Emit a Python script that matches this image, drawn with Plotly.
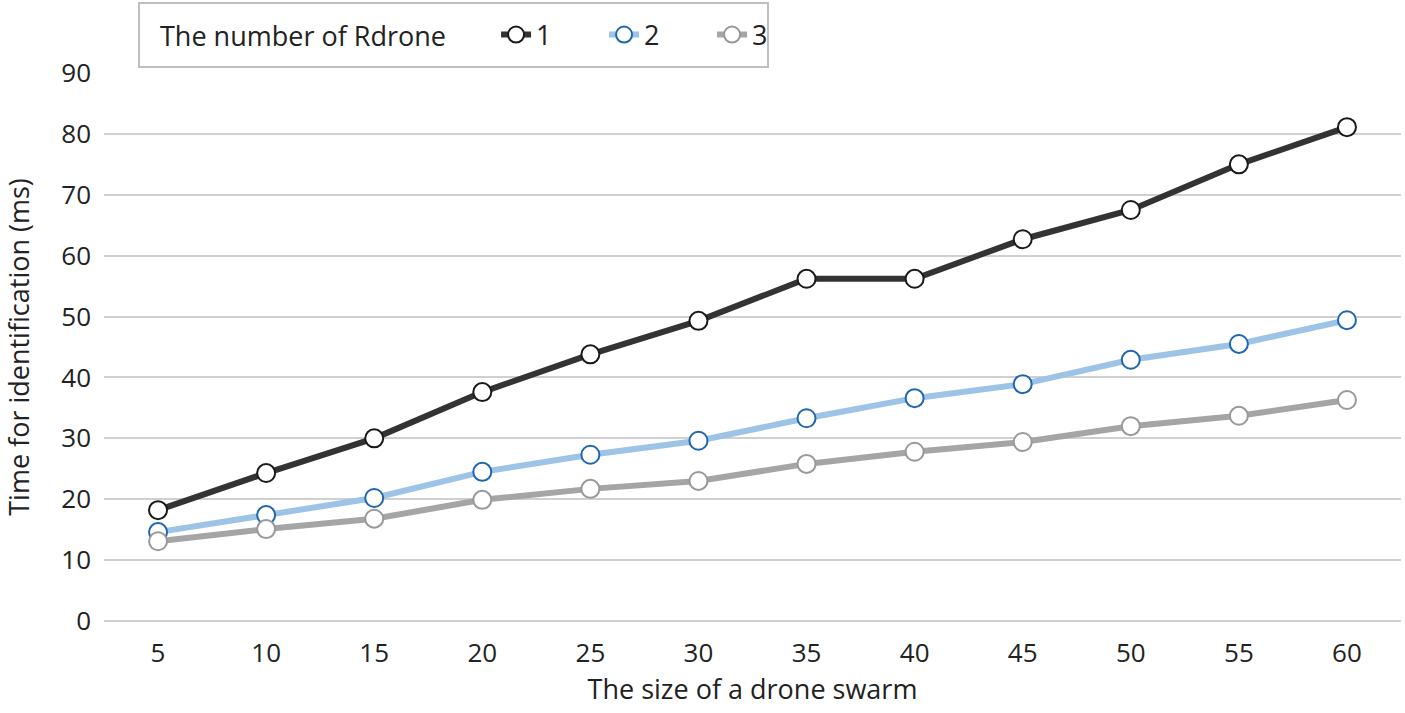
import plotly.graph_objects as go

swarm_sizes = ["5", "10", "15", "20", "25", "30", "35", "40", "45", "50", "55", "60"]
rdrone_1 = [18.2, 24.3, 30.0, 37.6, 43.8, 49.3, 56.2, 56.2, 62.7, 67.5, 75.0, 81.1]
rdrone_2 = [14.6, 17.4, 20.2, 24.5, 27.3, 29.6, 33.3, 36.6, 38.9, 42.9, 45.5, 49.4]
rdrone_3 = [13.1, 15.1, 16.8, 19.9, 21.7, 23.0, 25.8, 27.8, 29.4, 32.0, 33.7, 36.3]
series_names = ["1", "2", "3"]

line_colors = ["#333333", "#9DC3E6", "#A5A5A5"]
marker_edges = ["#1a1a1a", "#1F66B0", "#999999"]
line_widths = [6, 6, 6]

fig = go.Figure()
for name, vals, lc, me, lw in zip(series_names, [rdrone_1, rdrone_2, rdrone_3],
                                  line_colors, marker_edges, line_widths):
    fig.add_trace(go.Scatter(
        x=swarm_sizes, y=vals, name=name, mode="lines+markers",
        line=dict(color=lc, width=lw),
        marker=dict(size=18, color="white", line=dict(color=me, width=2)),
    ))

font_family = "Open Sans, Liberation Sans, sans-serif"
L, R, T, B = 104, 4, 73, 92
W, H = 1405, 713
pw, ph = W - L - R, H - T - B

def px_x(x):
    return (x - L) / pw

def px_y(y):
    return (H - B - y) / ph

fig.update_layout(
    width=W, height=H,
    margin=dict(l=L, r=R, t=T, b=B),
    paper_bgcolor="white", plot_bgcolor="white",
    font=dict(family=font_family, size=26, color="#222222"),
    showlegend=True,
    legend=dict(
        orientation="h", x=px_x(158), y=px_y(35), xanchor="left", yanchor="middle",
        title=dict(text="The number of Rdrone      ", side="left", font=dict(size=27)),
        borderwidth=0, bgcolor="rgba(0,0,0,0)",
        font=dict(size=27), tracegroupgap=0, entrywidth=63, entrywidthmode="pixels",
    ),
    shapes=[dict(
        type="rect", xref="paper", yref="paper",
        x0=px_x(139), x1=px_x(768), y0=px_y(67), y1=px_y(3),
        line=dict(color="#BFBFBF", width=2), fillcolor="rgba(0,0,0,0)", layer="below",
    )],
    xaxis=dict(
        type="category", range=[-0.5, 11.5], showgrid=False, zeroline=False, showline=False,
        ticks="", tickfont=dict(size=26), automargin=False, ticklabelstandoff=14,
        title=dict(text="The size of a drone swarm", font=dict(size=27), standoff=8),
    ),
    yaxis=dict(
        range=[0, 90], dtick=10, showgrid=True, gridcolor="#D0D0D0", gridwidth=2,
        zeroline=True, zerolinecolor="#D0D0D0", zerolinewidth=2,
        showline=False, ticks="", tickfont=dict(size=26), automargin=False,
        ticklabelstandoff=12,
        title=dict(text="Time for identification (ms)", font=dict(size=27), standoff=24),
    ),
)
fig.write_html("out.html", config={"displayModeBar": False},
               post_script="document.body.style.margin='0';document.body.style.overflow='hidden';")
